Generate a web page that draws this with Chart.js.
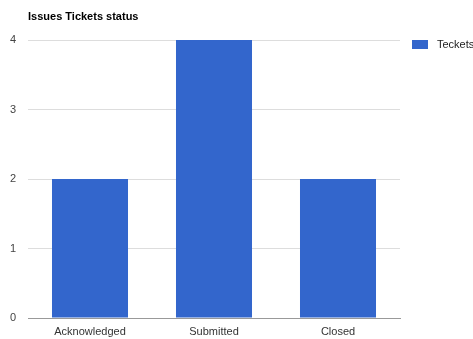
<!DOCTYPE html>
<html>
<head>
<meta charset="utf-8">
<script src="https://cdn.jsdelivr.net/npm/chart.js@4.4.0/dist/chart.umd.min.js"></script>
<style>
  html, body { margin: 0; padding: 0; background: #fff; }
  #wrap { width: 473px; height: 339px; }
</style>
</head>
<body>
<div id="wrap"><canvas id="bar-chart" width="473" height="339"></canvas></div>
<script>
var categories = ['Acknowledged', 'Submitted', 'Closed'];
var tickets = [2, 4, 2];
var yTicks = [0, 1, 2, 3, 4];
var seriesName = 'Teckets';
var barColor = '#3366CC';
var font = 'Arial, "Liberation Sans", sans-serif';

// title over the plot area and legend on the right, google charts style
var decorPlugin = {
    id: 'decor',
    afterDraw: function (chart) {
        var ctx = chart.ctx;
        var area = chart.chartArea;
        ctx.save();
        ctx.textBaseline = 'middle';
        ctx.font = 'bold 11px ' + font;
        ctx.fillStyle = '#000';
        ctx.fillText('Issues Tickets status', area.left, 17);

        ctx.fillStyle = barColor;
        ctx.fillRect(area.right + 12, area.top, 16, 9);
        ctx.font = '11px ' + font;
        ctx.fillStyle = '#222';
        ctx.fillText(seriesName, area.right + 37, area.top + 5);
        ctx.restore();
    }
};

function createBarChart(labels, data) {
    var ctx = document.getElementById('bar-chart');
    var chart = new Chart(ctx, {
        type: 'bar',
        data: {
            labels: labels,
            datasets: [{
                label: seriesName,
                backgroundColor: barColor,
                borderWidth: 0,
                data: data,
                categoryPercentage: 1,
                barPercentage: 0.613
            }]
        },
        options: {
            responsive: false,
            animation: false,
            layout: { padding: { top: 40, left: 4, right: 73, bottom: 0 } },
            plugins: {
                legend: { display: false },
                tooltip: { enabled: false }
            },
            scales: {
                x: {
                    afterFit: function (axis) { axis.height = 21; },
                    grid: { display: false, drawTicks: false },
                    border: { color: '#999', width: 1 },
                    ticks: {
                        color: '#333',
                        padding: 7,
                        font: { family: font, size: 11 }
                    }
                },
                y: {
                    min: yTicks[0],
                    max: yTicks[yTicks.length - 1],
                    afterBuildTicks: function (axis) {
                        axis.ticks = yTicks.map(function (v) { return { value: v }; });
                    },
                    afterFit: function (axis) { axis.width = 24; },
                    border: { display: false },
                    grid: { color: '#ddd', drawTicks: false },
                    ticks: {
                        color: '#444',
                        padding: 12,
                        font: { family: font, size: 11 }
                    }
                }
            }
        },
        plugins: [decorPlugin]
    });
}

createBarChart(categories, tickets);
</script>
</body>
</html>
